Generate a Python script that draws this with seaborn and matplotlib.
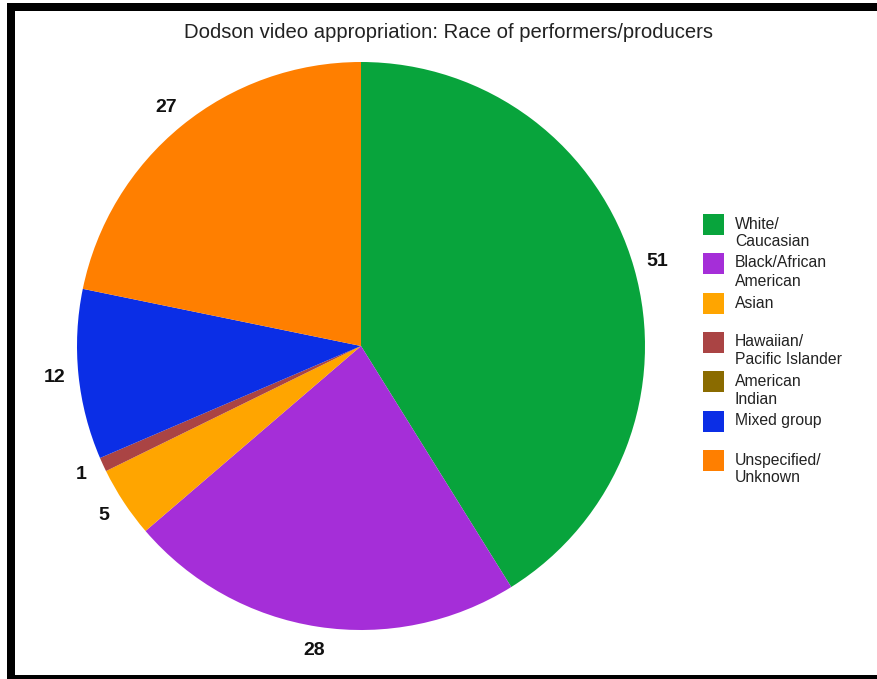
import matplotlib
matplotlib.use("Agg")
import matplotlib.pyplot as plt
import seaborn as sns
from matplotlib.patches import Rectangle

categories = ["White/\nCaucasian", "Black/African\nAmerican", "Asian",
              "Hawaiian/\nPacific Islander", "American\nIndian", "Mixed group",
              "Unspecified/\nUnknown"]
values = [51, 28, 5, 1, 0, 12, 27]
colors_hex = ["#08A43C", "#A52ED8", "#FFA500", "#AA4444", "#8A6B00", "#0B2EE6", "#FF7F00"]
title = "Dodson video appropriation: Race of performers/producers"

sns.set_theme(style="white")
plt.rcParams['font.family'] = ['Liberation Sans', 'DejaVu Sans']
palette = sns.color_palette(colors_hex)

W, H = 878, 679
fig = plt.figure(figsize=(W / 100, H / 100), dpi=100)
fig.patch.set_facecolor("white")

# frame (black border on left, top, bottom)
fig.patches.append(Rectangle((7 / W, 0), 8 / W, (H - 3) / H, transform=fig.transFigure,
                             facecolor="black", edgecolor="none"))
fig.patches.append(Rectangle((7 / W, (H - 11) / H), (W - 7) / W, 8 / H, transform=fig.transFigure,
                             facecolor="black", edgecolor="none"))
fig.patches.append(Rectangle((7 / W, 0), (W - 7) / W, 4 / H, transform=fig.transFigure,
                             facecolor="black", edgecolor="none"))

cx, cy, r = 361, H - 346, 284
ax = fig.add_axes([(cx - r) / W, (cy - r) / H, 2 * r / W, 2 * r / H])
total = sum(values)


def fmt(p):
    v = int(round(p * total / 100.0))
    return str(v) if v > 0 else ""


ax.pie(values, colors=palette, startangle=90, counterclock=False, radius=1,
       autopct=fmt, pctdistance=1.085,
       wedgeprops=dict(linewidth=0),
       textprops=dict(fontsize=14, fontweight="bold", color="#111111"))
ax.set_xlim(-1, 1)
ax.set_ylim(-1, 1)
ax.set_aspect("equal")
ax.axis("off")

fig.text(449 / W, (H - 32) / H, title, ha="center", va="center", fontsize=14.6, color="#222222")

# legend
leg_y = [224, 263, 303, 342, 381, 421, 460]
line_h = 18
for lab, col, y in zip(categories, palette, leg_y):
    fig.patches.append(Rectangle((703 / W, (H - y - 10.5) / H), 21 / W, 21 / H,
                                 transform=fig.transFigure, facecolor=col, edgecolor="none"))
    for k, line in enumerate(lab.split("\n")):
        fig.text(735 / W, (H - y - k * line_h) / H, line, ha="left", va="center",
                 fontsize=11.3, color="#222222")

fig.savefig("out.png", dpi=100)
